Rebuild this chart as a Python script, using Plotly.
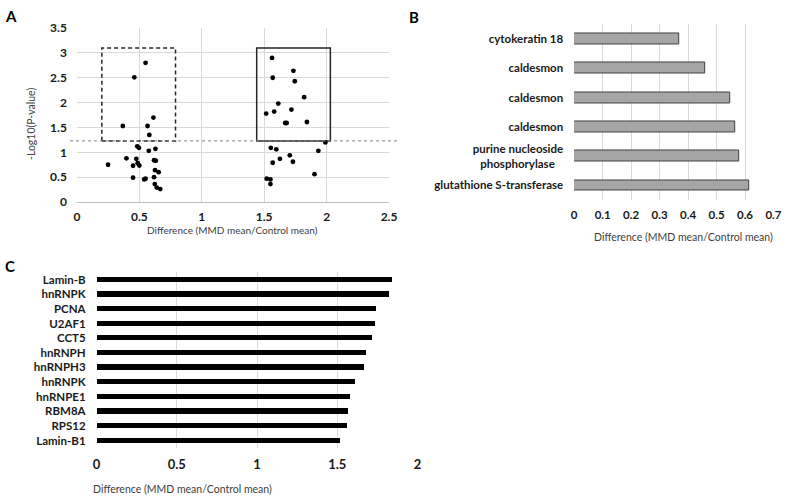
import plotly.graph_objects as go

W, H = 789, 501

# ---------- Data ----------
# Panel A: volcano-like scatter
a_left_x = [0.55, 0.46, 0.613, 0.368, 0.566, 0.58, 0.484, 0.497, 0.576, 0.629,
            0.397, 0.476, 0.25, 0.45, 0.487, 0.50, 0.618, 0.632, 0.626, 0.655,
            0.45, 0.539, 0.55, 0.618, 0.624, 0.64, 0.668]
a_left_y = [2.80, 2.51, 1.70, 1.53, 1.53, 1.35, 1.12, 1.09, 1.03, 1.07,
            0.88, 0.87, 0.75, 0.73, 0.78, 0.735, 0.84, 0.83, 0.64, 0.60,
            0.49, 0.455, 0.47, 0.50, 0.36, 0.29, 0.26]
a_right_x = [1.563, 1.734, 1.568, 1.745, 1.82, 1.613, 1.516, 1.58, 1.718, 1.668,
             1.68, 1.842, 1.99, 1.553, 1.597, 1.934, 1.705, 1.626, 1.568, 1.73,
             1.903, 1.52, 1.55, 1.55]
a_right_y = [2.90, 2.64, 2.50, 2.43, 2.11, 1.98, 1.78, 1.82, 1.86, 1.59,
             1.59, 1.61, 1.20, 1.09, 1.06, 1.03, 0.94, 0.87, 0.79, 0.81,
             0.56, 0.47, 0.455, 0.36]
a_threshold = 1.23
a_xticks = [0, 0.5, 1, 1.5, 2, 2.5]
a_xticklabels = ["0", "0.5", "1", "1.5", "2", "2.5"]
a_yticks = [0, 0.5, 1, 1.5, 2, 2.5, 3, 3.5]
a_yticklabels = ["0", "0.5", "1", "1.5", "2", "2.5", "3", "3.5"]

# Panel B: decreased proteins (top to bottom)
b_labels = ["cytokeratin 18", "caldesmon", "caldesmon", "caldesmon",
            "purine nucleoside<br>phosphorylase&nbsp;&nbsp;&nbsp;", "glutathione S-transferase"]
b_values = [0.368, 0.46, 0.549, 0.565, 0.58, 0.616]
b_xticks = [0, 0.1, 0.2, 0.3, 0.4, 0.5, 0.6, 0.7]
b_xticklabels = ["0", "0.1", "0.2", "0.3", "0.4", "0.5", "0.6", "0.7"]

# Panel C: increased proteins (top to bottom)
c_labels = ["Lamin-B", "hnRNPK", "PCNA", "U2AF1", "CCT5", "hnRNPH", "hnRNPH3",
            "hnRNPK", "hnRNPE1", "RBM8A", "RPS12", "Lamin-B1"]
c_values = [1.838, 1.82, 1.742, 1.732, 1.715, 1.675, 1.666, 1.609, 1.578,
            1.562, 1.558, 1.513]
c_xticks = [0, 0.5, 1, 1.5, 2]
c_xticklabels = ["0", "0.5", "1", "1.5", "2"]

axis_title = "Difference (MMD mean/Control mean)"

# ---------- helpers ----------
def px(x):
    return x / W

def py(y):
    return 1 - y / H

FONT = "Lato, Open Sans, sans-serif"
GRID = "#d9d9d9"
TICKCOL = "#1a1a1a"
TITLECOL = "#404040"

fig = go.Figure()

# Panel A scatter
fig.add_trace(go.Scatter(x=a_left_x + a_right_x, y=a_left_y + a_right_y,
                         mode="markers", marker=dict(color="black", size=4.8),
                         xaxis="x", yaxis="y", showlegend=False, hoverinfo="skip"))

# Panel B bars
b_pos = list(range(len(b_labels)))
fig.add_trace(go.Bar(x=b_values, y=b_pos, orientation="h", width=0.37,
                     marker=dict(color="#a6a6a6", line=dict(color="#404040", width=1)),
                     xaxis="x2", yaxis="y2", showlegend=False, hoverinfo="skip"))

# Panel C bars
c_pos = list(range(len(c_labels)))
fig.add_trace(go.Bar(x=c_values, y=c_pos, orientation="h", width=0.36,
                     marker=dict(color="black", line=dict(width=0)),
                     xaxis="x3", yaxis="y3", showlegend=False, hoverinfo="skip"))

def tf(size):
    return dict(family=FONT, size=size, color=TICKCOL, weight="bold")

catfont = tf(11.5)

fig.update_layout(
    width=W, height=H, margin=dict(l=0, r=0, t=0, b=0),
    paper_bgcolor="white", plot_bgcolor="white",
    font=dict(family=FONT),
    bargap=0,
    xaxis=dict(domain=[px(74), px(391)], range=[0, 2.5], tickvals=a_xticks,
               ticktext=a_xticklabels, showgrid=True, gridcolor=GRID, gridwidth=1,
               showline=True, linecolor="#bfbfbf", linewidth=1, zeroline=False,
               tickfont=tf(12), ticks="", ticklabelstandoff=4, anchor="y",
               fixedrange=True),
    yaxis=dict(domain=[py(200), py(20.7)], range=[0, 3.5], tickvals=a_yticks,
               ticktext=a_yticklabels, showgrid=True, gridcolor=GRID, gridwidth=1,
               showline=False, zeroline=False, tickfont=tf(12), ticks="",
               ticklabelstandoff=9, anchor="x", fixedrange=True),
    xaxis2=dict(domain=[px(579), px(781.5)], range=[0, 0.7005], tickvals=b_xticks,
                ticktext=b_xticklabels, showgrid=True, gridcolor=GRID, gridwidth=1,
                showline=False, zeroline=False, tickfont=tf(11.5), ticks="",
                ticklabelstandoff=6, anchor="y2", fixedrange=True),
    yaxis2=dict(domain=[py(198), py(17)], range=[len(b_labels) - 0.5, -0.5],
                tickvals=b_pos, ticktext=b_labels, showgrid=False, showline=False,
                zeroline=False, tickfont=catfont, ticks="", ticklabelstandoff=10,
                anchor="x2", fixedrange=True),
    xaxis3=dict(domain=[px(94), px(420)], range=[0, 2.001], tickvals=c_xticks,
                ticktext=c_xticklabels, showgrid=True, gridcolor=GRID, gridwidth=1,
                showline=False, zeroline=False, tickfont=tf(13), ticks="",
                ticklabelstandoff=7, anchor="y3", fixedrange=True),
    yaxis3=dict(domain=[py(453.5), py(272.5)], range=[len(c_labels) - 0.5, -0.5],
                tickvals=c_pos, ticktext=c_labels, showgrid=False, showline=False,
                zeroline=False, tickfont=catfont, ticks="", ticklabelstandoff=10,
                anchor="x3", fixedrange=True),
)

# Shapes in panel A
fig.add_shape(type="rect", xref="x", yref="y", x0=0.2, x1=0.79, y0=a_threshold, y1=3.1,
              line=dict(color="#262626", width=1.5, dash="4px,3px"), fillcolor="rgba(0,0,0,0)")
fig.add_shape(type="rect", xref="x", yref="y", x0=1.44, x1=2.03, y0=a_threshold, y1=3.1,
              line=dict(color="#262626", width=1.5), fillcolor="rgba(0,0,0,0)")
fig.add_shape(type="line", xref="paper", yref="y", x0=px(67), x1=px(400),
              y0=a_threshold, y1=a_threshold,
              line=dict(color="#7f7f7f", width=1, dash="dot"))

# Axis titles and panel letters
def ann(text, x, y, size, color, bold=False, angle=0):
    fig.add_annotation(text=text, x=px(x), y=py(y), xref="paper", yref="paper",
                       showarrow=False, textangle=angle, xanchor="center", yanchor="middle",
                       font=dict(family=FONT, size=size, color=color,
                                 weight="bold" if bold else "normal"))

ann(axis_title, 232, 229, 10, TITLECOL)
ann("-Log10(P-value)", 28, 120, 10.5, TITLECOL, angle=-90)
ann(axis_title, 690, 236, 10.5, TITLECOL)
ann(axis_title, 181, 496, 10.5, TITLECOL)
ann("A", 7, 8, 15, "black", bold=True)
ann("B", 416, 9, 15, "black", bold=True)
ann("C", 6, 266, 15, "black", bold=True)

fig.write_html("out.html", config={"displayModeBar": False},
               post_script="document.body.style.margin='0';document.body.style.overflow='hidden';")
